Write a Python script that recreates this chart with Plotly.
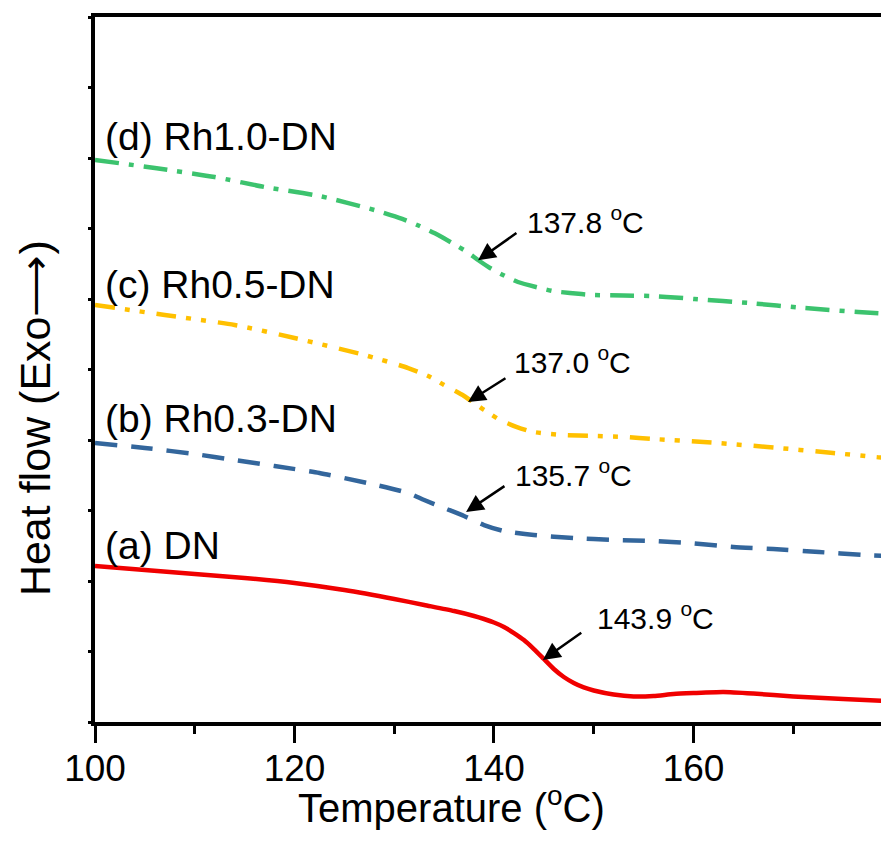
import plotly.graph_objects as go

# ---- data (temperature in °C, heat flow in arbitrary offset units) ----
t_a = [100, 105, 110, 115, 120, 125, 130, 133, 136, 138, 139, 140, 141, 142, 143, 144, 145, 146, 147, 148, 149, 150, 152, 154, 156, 158, 160, 163, 166, 170, 175, 179.6]
h_a = [2.213, 2.156, 2.099, 2.043, 1.972, 1.872, 1.745, 1.660, 1.574, 1.504, 1.461, 1.411, 1.348, 1.262, 1.163, 1.035, 0.894, 0.752, 0.638, 0.553, 0.490, 0.447, 0.390, 0.362, 0.369, 0.397, 0.411, 0.426, 0.404, 0.362, 0.326, 0.298]

t_b = [100, 105, 110, 114, 118, 122.5, 127.3, 131.4, 133, 135, 137, 139, 141, 144, 148, 152, 156, 159.6, 164, 168, 172.6, 177, 179.6]
h_b = [3.957, 3.887, 3.801, 3.716, 3.631, 3.532, 3.390, 3.248, 3.149, 3.035, 2.922, 2.794, 2.709, 2.652, 2.610, 2.582, 2.567, 2.539, 2.482, 2.454, 2.411, 2.369, 2.355]

t_c = [100, 107, 114, 120, 127, 131.4, 133.6, 135, 137, 139, 140.6, 142.3, 144, 147, 150, 153, 156, 161, 167.4, 174, 178.2, 179.6]
h_c = [5.915, 5.773, 5.631, 5.447, 5.206, 5.021, 4.894, 4.780, 4.624, 4.426, 4.284, 4.184, 4.113, 4.071, 4.057, 4.043, 4.014, 3.972, 3.901, 3.816, 3.759, 3.745]

t_d = [100, 106, 112, 117, 122.5, 128, 130.8, 132.3, 134.4, 135.8, 137.3, 138.4, 139.6, 140.9, 142.4, 144.6, 145.9, 147.6, 149.9, 153, 155.6, 159, 160.1, 165.6, 171.1, 176.5, 179.6]
h_d = [7.972, 7.858, 7.730, 7.589, 7.461, 7.262, 7.135, 7.050, 6.908, 6.794, 6.667, 6.553, 6.440, 6.340, 6.241, 6.156, 6.113, 6.085, 6.057, 6.050, 6.043, 6.014, 6.000, 5.943, 5.872, 5.816, 5.787]

series_names = ["(a) DN", "(b) Rh0.3-DN", "(c) Rh0.5-DN", "(d) Rh1.0-DN"]
label_y = [2.50, 4.31, 6.21, 8.30]

tg_text = ["143.9 <sup>o</sup>C", "135.7 <sup>o</sup>C", "137.0 <sup>o</sup>C", "137.8 <sup>o</sup>C"]
tg_text_pos = [(150.1, 1.50), (141.9, 3.53), (141.8, 5.13), (143.1, 7.12)]
arrow_head = [(144.9, 0.88), (137.2, 2.98), (137.4, 4.54), (138.4, 6.55)]
arrow_tail = [(148.9, 1.28), (141.2, 3.36), (141.3, 4.89), (142.4, 6.95)]

x_ticks = [100, 120, 140, 160]

FONT = "Liberation Sans, Arial, sans-serif"

fig = go.Figure()
styles = [
    dict(color="#F00000", width=4.5, dash="solid"),
    dict(color="#33669C", width=4.5, dash="22px,14px"),
    dict(color="#FFC000", width=4.5, dash="20px,10px,5px,10px,5px,12px"),
    dict(color="#3CC36E", width=4.5, dash="24px,10px,5px,10px"),
]
for t, h, st, nm in zip([t_a, t_b, t_c, t_d], [h_a, h_b, h_c, h_d], styles, series_names):
    fig.add_trace(go.Scatter(x=t, y=h, mode="lines", name=nm,
                             line=dict(shape="spline", smoothing=0.6, **st),
                             showlegend=False, hoverinfo="skip"))

annotations = []
for nm, ly in zip(series_names, label_y):
    annotations.append(dict(x=100.8, y=ly, xref="x", yref="y", text=nm, showarrow=False,
                            xanchor="left", yanchor="middle",
                            font=dict(family=FONT, size=39, color="black")))
for txt, (tx, ty) in zip(tg_text, tg_text_pos):
    annotations.append(dict(x=tx, y=ty, xref="x", yref="y", text=txt, showarrow=False,
                            xanchor="left", yanchor="middle",
                            font=dict(family=FONT, size=30, color="black")))
for (hx, hy), (tx, ty) in zip(arrow_head, arrow_tail):
    annotations.append(dict(x=hx, y=hy, xref="x", yref="y", ax=tx, ay=ty, axref="x", ayref="y",
                            text="", showarrow=True, arrowhead=2, arrowsize=1.4,
                            arrowwidth=2.5, arrowcolor="black"))
# axis titles
annotations.append(dict(x=-0.0756, y=0.431, xref="paper", yref="paper",
                        text="Heat flow (Exo\u27f6)", textangle=-90, showarrow=False,
                        xanchor="center", yanchor="middle",
                        font=dict(family=FONT, size=43, color="black")))
annotations.append(dict(x=0.449, y=-0.118, xref="paper", yref="paper",
                        text="Temperature (<sup>o</sup>C)", showarrow=False,
                        xanchor="center", yanchor="middle",
                        font=dict(family=FONT, size=40, color="black")))

fig.update_layout(
    width=881, height=825,
    margin=dict(l=87, r=0, t=9, b=111),
    paper_bgcolor="white", plot_bgcolor="white",
    annotations=annotations,
    font=dict(family=FONT, color="black"),
)
fig.update_xaxes(range=[100, 179.6], tickvals=x_ticks, ticktext=[str(v) for v in x_ticks],
                 showgrid=False, zeroline=False, showline=True, linewidth=4, linecolor="black",
                 mirror=True, ticks="outside", ticklen=17, tickwidth=3, tickcolor="black",
                 ticklabelstandoff=-6,
                 tickfont=dict(family=FONT, size=37, color="black"),
                 minor=dict(tickvals=[110, 130, 150, 170], ticklen=8, tickwidth=3, tickcolor="black", ticks="outside"))
fig.update_yaxes(range=[0, 10], dtick=1, tick0=0, showticklabels=False,
                 showgrid=False, zeroline=False, showline=True, linewidth=4, linecolor="black",
                 mirror=False, ticks="outside", ticklen=3, tickwidth=3, tickcolor="black")

fig.write_html("out.html")
